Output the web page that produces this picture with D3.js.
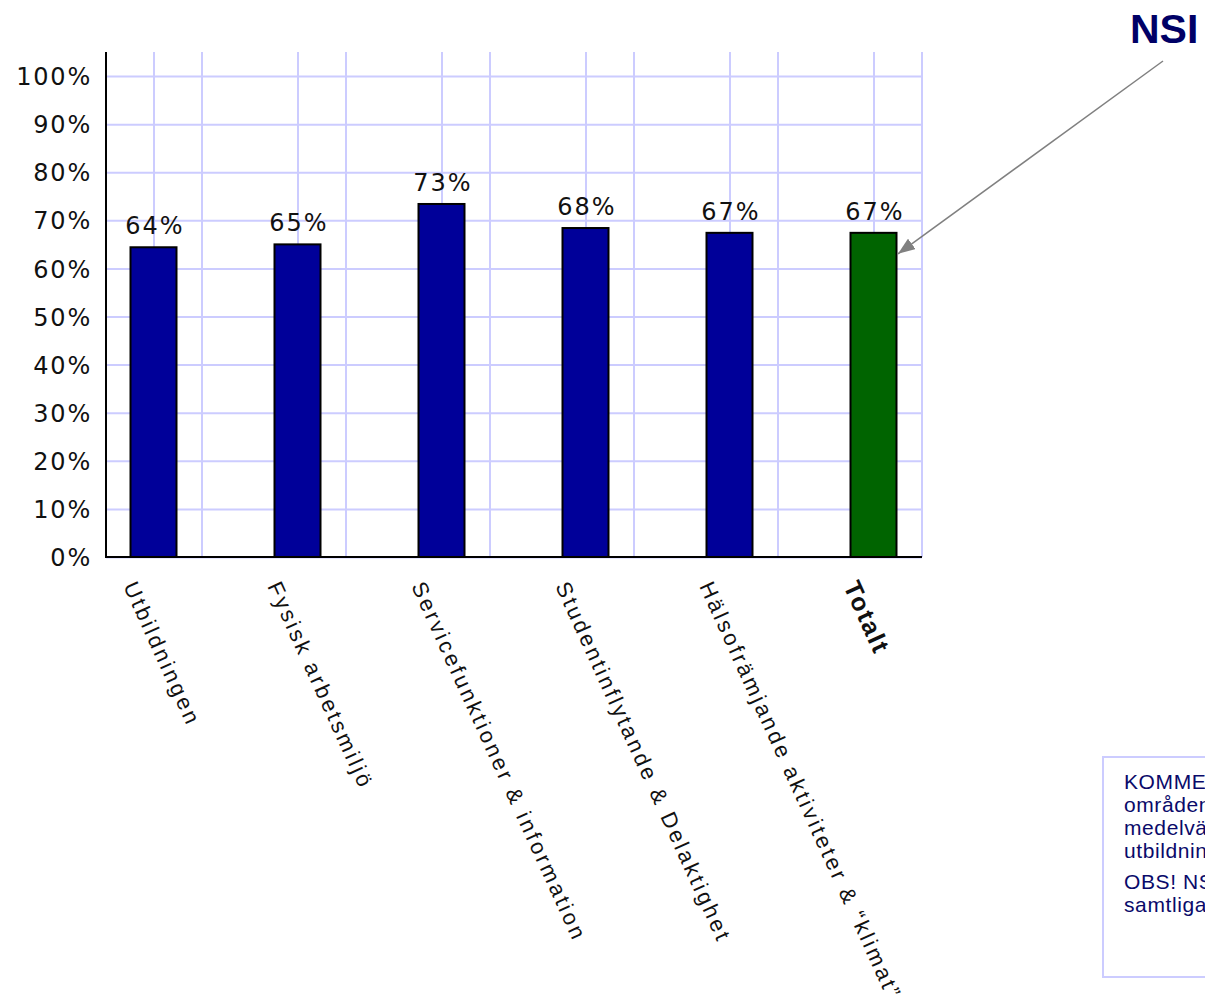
<!DOCTYPE html>
<html>
<head>
<meta charset="utf-8">
<script src="https://cdn.jsdelivr.net/npm/d3@7"></script>
<style>
  body { margin: 0; background: #fff; overflow: hidden; }
</style>
</head>
<body>
<script>
const categories = [
  'Utbildningen',
  'Fysisk arbetsmiljö',
  'Servicefunktioner & information',
  'Studentinflytande & Delaktighet',
  'Hälsofrämjande aktiviteter & “klimat”',
  'Totalt'
];
const values = [0.644, 0.650, 0.734, 0.684, 0.674, 0.674];
const yTicks = [0, 0.1, 0.2, 0.3, 0.4, 0.5, 0.6, 0.7, 0.8, 0.9, 1.0];
const commentLines = [
  ['KOMMENTAR: Diagrammet visar', 'områdenas NSI som', 'medelvärde för hela', 'utbildningen.'],
  ['OBS! NSI beräknas på', 'samtliga frågor.']
];

const width = 1205;
const height = 995;
const plot = { left: 106, right: 922, top: 52, bottom: 557 };
const barWidth = 46;
const grid = '#ccccff';
const numFont = '"DejaVu Sans", Verdana, sans-serif';
const textFont = '"Liberation Sans", Arial, sans-serif';

const svg = d3.select('body')
  .append('svg')
    .attr('width', width)
    .attr('height', height)
    .attr('viewBox', [0, 0, width, height].join(' '));

const x = d3.scalePoint()
  .domain(categories)
  .range([plot.left, plot.right])
  .padding(1 / 3);

const y = d3.scaleLinear()
  .domain([0, 1.05])
  .range([plot.bottom, plot.top]);

const isTotal = (i) => i === categories.length - 1;
const color = (d, i) => isTotal(i) ? '#006400' : '#000099';
const pct = d3.format('.0%');

// vertical grid: three lines per category step
const third = x.step() / 3;
const vLines = [];
categories.forEach((c, i) => {
  if (i === 0) vLines.push(x(c) - third);
  vLines.push(x(c), x(c) + third);
});

svg.append('g')
  .selectAll('line')
  .data(vLines.filter((v) => v > plot.left + 1))
  .enter()
    .append('line')
    .attr('x1', (d) => d)
    .attr('x2', (d) => d)
    .attr('y1', plot.top)
    .attr('y2', plot.bottom)
    .attr('stroke', grid)
    .attr('stroke-width', 2);

// horizontal grid + tick labels
const yAxis = d3.axisLeft(y)
  .tickValues(yTicks)
  .tickFormat(pct)
  .tickSizeInner(-(plot.right - plot.left))
  .tickSizeOuter(0)
  .tickPadding(14);

const ya = svg.append('g')
  .attr('transform', `translate(${plot.left}, 0)`)
  .call(yAxis);

ya.select('.domain').remove();
ya.selectAll('.tick line')
  .attr('stroke', grid)
  .attr('stroke-width', 2);
ya.selectAll('.tick text')
  .attr('fill', '#111')
  .attr('font-family', numFont)
  .attr('font-size', 24)
  .attr('letter-spacing', 1.8)
  .attr('dy', '0.36em');

// bars
svg.append('g')
  .selectAll('rect')
  .data(values)
  .enter()
    .append('rect')
    .attr('x', (d, i) => x(categories[i]) - barWidth / 2 - 0.5)
    .attr('y', (d) => y(d))
    .attr('width', barWidth)
    .attr('height', (d) => y(0) - y(d))
    .attr('fill', color)
    .attr('stroke', '#000')
    .attr('stroke-width', 2);

// value labels
svg.append('g')
  .selectAll('text')
  .data(values)
  .enter()
    .append('text')
    .attr('x', (d, i) => x(categories[i]) + 1)
    .attr('y', (d) => y(d) - 13)
    .attr('text-anchor', 'middle')
    .attr('font-family', numFont)
    .attr('font-size', 24)
    .attr('letter-spacing', 2)
    .attr('fill', '#111')
    .text(pct);

// axes lines
svg.append('line')
  .attr('x1', plot.left).attr('x2', plot.left)
  .attr('y1', plot.top).attr('y2', plot.bottom + 1)
  .attr('stroke', '#000').attr('stroke-width', 2);

svg.append('line')
  .attr('x1', plot.left - 1).attr('x2', plot.right)
  .attr('y1', plot.bottom).attr('y2', plot.bottom)
  .attr('stroke', '#000').attr('stroke-width', 2);

// category labels, rotated
svg.append('g')
  .selectAll('text')
  .data(categories)
  .enter()
    .append('text')
    .attr('transform', (d) => `translate(${x(d) - 31}, ${plot.bottom + 29}) rotate(65.5)`)
    .attr('font-family', textFont)
    .attr('font-size', (d, i) => isTotal(i) ? 25 : 22)
    .attr('font-weight', (d, i) => isTotal(i) ? 'bold' : 'normal')
    .attr('letter-spacing', (d, i) => isTotal(i) ? 1.8 : 2.8)
    .attr('fill', '#111')
    .text((d) => d);

// NSI annotation
svg.append('defs')
  .append('marker')
    .attr('id', 'arrow')
    .attr('viewBox', '0 0 16 12')
    .attr('refX', 16)
    .attr('refY', 6)
    .attr('markerWidth', 17)
    .attr('markerHeight', 13)
    .attr('markerUnits', 'userSpaceOnUse')
    .attr('orient', 'auto')
  .append('path')
    .attr('d', 'M0,0 L16,6 L0,12 Z')
    .attr('fill', '#808080');

svg.append('text')
  .attr('x', 1130)
  .attr('y', 43)
  .attr('font-family', textFont)
  .attr('font-weight', 'bold')
  .attr('font-size', 41)
  .attr('fill', '#000066')
  .text('NSI');

const last = categories.length - 1;
svg.append('line')
  .attr('x1', 1163)
  .attr('y1', 61)
  .attr('x2', x(categories[last]) + barWidth / 2 + 1)
  .attr('y2', y(values[last]) + 21)
  .attr('stroke', '#808080')
  .attr('stroke-width', 1.5)
  .attr('marker-end', 'url(#arrow)');

// comment box
const box = svg.append('g').attr('transform', 'translate(1103, 757)');
box.append('rect')
  .attr('width', 220)
  .attr('height', 220)
  .attr('fill', '#fff')
  .attr('stroke', grid)
  .attr('stroke-width', 2);

let ly = 32;
commentLines.forEach((para) => {
  para.forEach((line) => {
    box.append('text')
      .attr('x', 21)
      .attr('y', ly)
      .attr('font-family', textFont)
      .attr('font-size', 21)
      .attr('letter-spacing', 0.6)
      .attr('fill', '#0a0a6a')
      .text(line);
    ly += 23;
  });
  ly += 8;
});
</script>
</body>
</html>
